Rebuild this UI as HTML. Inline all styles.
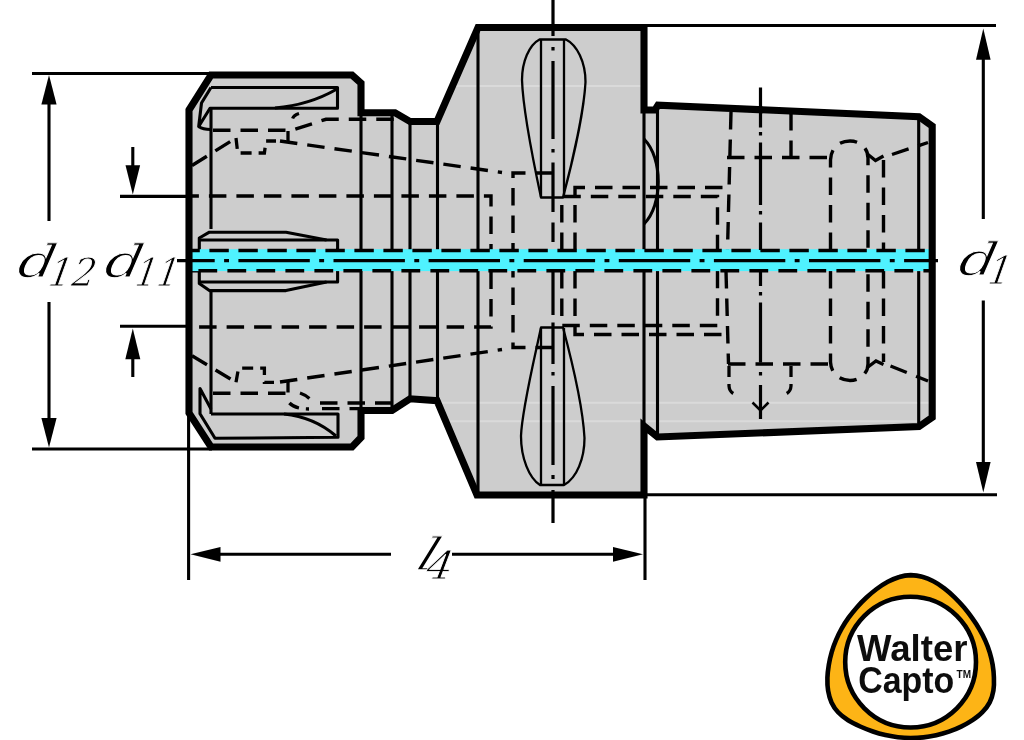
<!DOCTYPE html>
<html>
<head>
<meta charset="utf-8">
<title>Walter Capto collet chuck adaptor</title>
<style>
html,body{margin:0;padding:0;background:#fff;}
body{width:1024px;height:740px;overflow:hidden;position:relative;font-family:"Liberation Sans",sans-serif;}
svg{position:absolute;left:0;top:0;display:block;}
.thick{fill:none;stroke:#000;stroke-width:7.1;stroke-linejoin:miter;stroke-linecap:butt;}
.thin{fill:none;stroke:#000;stroke-width:3.1;stroke-linecap:butt;stroke-linejoin:round;}
.hid{fill:none;stroke:#000;stroke-width:3.4;stroke-dasharray:17.5 10;stroke-linecap:butt;}
.hids{fill:none;stroke:#000;stroke-width:3.3;stroke-dasharray:11 7;stroke-linecap:butt;}
.ctr{fill:none;stroke:#000;stroke-width:3.2;}
.lbl{font-family:"DejaVu Serif","Liberation Serif",serif;font-style:italic;fill:#000;stroke:#fff;stroke-width:0.9;paint-order:fill stroke;}
.logo{font-family:"Liberation Sans",sans-serif;font-weight:bold;fill:#111;}
</style>
</head>
<body>
<svg width="1024" height="740" viewBox="0 0 1024 740">
<defs>
<clipPath id="bodyclip"><path d="M189,110 L211,75 L352,75 L361,83 L361,112.7 L395,112.7 L410,121.5 L437,121.5 L478,27.5 L644,27.5 L644,110 L655,110 L658,105.2 L919,116.7 L932.2,126 L932.2,417.5 L919,426.6 L657.5,437 L644,426 L644,495 L477,495 L437,400.6 L410,398.8 L392,410.5 L361,410.5 L361,437.5 L352,447 L211,447 L189,413 Z"/></clipPath>
<filter id="soft" x="-2%" y="-2%" width="104%" height="104%"><feGaussianBlur stdDeviation="0.7"/></filter>
</defs>
<g filter="url(#soft)">
<rect x="0" y="0" width="1024" height="740" fill="#fff"/>
<!-- BODY FILL -->
<path id="body" fill="#cdcdcd" stroke="none" d="M189,110 L211,75 L352,75 L361,83 L361,112.7 L395,112.7 L410,121.5 L437,121.5 L478,27.5 L644,27.5 L644,110 L655,110 L658,105.2 L919,116.7 L932.2,126 L932.2,417.5 L919,426.6 L657.5,437 L644,426 L644,495 L477,495 L437,400.6 L410,398.8 L392,410.5 L361,410.5 L361,437.5 L352,447 L211,447 L189,413 Z"/>
<!-- LIGHT BANDS -->
<g stroke="#dadada" stroke-width="2" fill="none" clip-path="url(#bodyclip)">
<path d="M445,86 H642"/>
<path d="M438,402.8 H930"/>
<path d="M446,421.2 H930"/>
</g>
<!-- THIN SOLID LINES -->
<g class="thin">
<!-- body verticals -->
<path d="M211,108 V229 M211,292 V414"/>
<path d="M361,112.7 V410.5"/>
<path d="M392,112.7 V410.5"/>
<path d="M410,121.5 V399"/>
<path d="M437.5,121.5 V400.5"/>
<path d="M478,27 V495"/>
<path d="M644,110 V428"/>
<path d="M657.5,105 V437"/>
<path d="M918.7,116.7 V426.6"/>
<!-- arc between flange face and taper -->
<path d="M644,139 C663,158 663,205 644,224"/>
<!-- nut top wrench slot -->
<path d="M211,87.5 H337.5 V108.3 H210 L198.7,126.5 L201.5,103 L211,87.5"/>
<path d="M198.7,126.5 Q203,129.5 210.5,129.5"/>
<path d="M337,89 C318,100 298,106 275,108"/>
<!-- nut bottom wrench slot -->
<path d="M211,414 H338 V437.3 L215,438.3 L200,413.7 V388.6 L211,409"/>
<path d="M284,414 C304,416 322,424 336,436"/>
<!-- collet centre slot -->
<path d="M192,250.5 H199.3 V238 L209.4,232.2 H286 L326.6,240"/>
<path d="M199.3,240 H337.6 V250.5"/>
<path d="M192,271 H199.3 V283.5 L209.4,290.6 H286 L326.6,282"/>
<path d="M199.3,282 H337.6 V271"/>
</g>
<!-- drive slots (teardrops) -->
<g class="thin" style="stroke-width:2.3">
<path d="M539.5,39.5 H566 C577,45 585.5,62 585.5,82 C584,110 573,160 563,197.5 H541 C533,160 523,110 522,80 C522,62 529,45 539.5,39.5 Z"/>
<path d="M541,40 V197 M564,40 V197"/>
<path d="M541,327.5 H563 C573,365 583,410 584.5,438 C584.5,458 577,478 564,485 H540 C529,478 521,458 521,436 C522,410 533,365 541,327.5 Z"/>
<path d="M541,328 V485 M564,328 V485"/>
</g>

<!-- HIDDEN (DASHED) LINES -->
<g class="hid">
<!-- collet bore d11 -->
<path d="M192,196 H491 V327 H192" stroke-dashoffset="10.6"/>
<!-- collet taper -->
<path d="M280,141 L502,172.5"/>
<path d="M280,382 L502,349.5"/>
<path d="M192,165.5 L236,138"/>
<path d="M192,355.7 L236,382.3"/>
<!-- counterbore -->
<path d="M553,173 H513 V250"/>
<path d="M553,347.5 H513 V271"/>
<!-- inner bores in flange / shank -->
<path d="M575,250 V187.5 H731"/>
<path d="M575,271 V334.5 H727"/>
<path d="M561.8,250 V196.5 H717.5 V250"/>
<path d="M561.8,271 V325.5 H717.5 V271"/>
<path d="M731,112 L727.5,250"/>
<path d="M726,271 L728.5,364"/>
<path d="M791,113 V157.5"/>
<path d="M727,157.5 H830.5"/>
<path d="M728,364 H830.5"/>
<path d="M830.5,250 V160 C831,147 840,141 850,141 C859,141 868,147 868,158 V250"/>
<path d="M830.5,271 V362 C831,374 840,380.5 850,380.5 C859,380.5 868,374 868,364 V271"/>
<path d="M883.5,160 V250 M883.5,271 V362"/>
<path d="M892,154.5 L928,142.5"/>
<path d="M890.5,366 L928,381"/>
<!-- nut thread relief -->
<path d="M213,130.3 H292 L319,121.5 L326,119.3 H395"/>
<path d="M213,393.3 H288"/>
<path d="M320,403 H392"/>
<path d="M322,408.6 H361"/>
</g>
<g class="hids">
<path d="M236,138 L237.7,153 H264.4 L266,141 H276"/>
<path d="M236,382.3 L238.5,368.2 H264.4 V382.3 H274"/>
<path d="M288,131 V141 M288,381.5 V392.5"/>
<path d="M292.6,118.5 Q294,115 299,113.5"/>
<path d="M300,393 Q306,395 311,400"/>
<path d="M289.4,403 Q295,409 309,409"/>
<path d="M868,154.5 L875.5,160.5 L883.5,156" stroke-dasharray="none"/>
<path d="M868,367 L876,361 L883.5,364.5" stroke-dasharray="none"/>
<path d="M729,366 V386 Q729.5,394 739,395.5"/>
<path d="M791,366 V386 Q790.5,394 781,395.5"/>
</g>

<!-- CYAN COOLANT CHANNEL -->
<rect x="192" y="249.2" width="738" height="21.9" fill="#4ff2ff"/>
<g class="hid">
<path d="M192,250.5 H930" stroke-dasharray="19.4 9.6" stroke-dashoffset="11.6"/>
<path d="M192,270.7 H930" stroke-dasharray="18.8 10.2" stroke-dashoffset="22.6"/>
</g>
<!-- CENTRE LINES -->
<g class="ctr">
<path d="M177,260.7 H938" stroke-dasharray="71.4 9.4 4.9 9.4" stroke-dashoffset="33.7"/>
<path d="M553,0 V36 M553,47 V50.5 M553,61 V139 M553,149 V152.5 M553,162.5 V212 M553,222.5 V242 M553,272 V315 M553,322.5 V364 M553,372 V375.5 M553,386 V465 M553,475 V479 M553,490 V523"/>
<path d="M760.5,87.5 V127.5 M760.5,132 V135.5 M760.5,142.5 V205 M760.5,211 V214.5 M760.5,222.5 V250 M760.5,271 V286 M760.5,292 V295.5 M760.5,302.5 V362.5 M760.5,372 V375.5 M760.5,385 V419"/>
<path d="M752.5,402.5 L760.5,410.5 L768.5,402.5" stroke-width="2.6"/>
</g>

<!-- BODY OUTLINE -->
<path class="thick" d="M189,110 L211,75 L352,75 L361,83 L361,112.7 L395,112.7 L410,121.5 L437,121.5 L478,27.5 L644,27.5 L644,110 L655,110 L658,105.2 L919,116.7 L932.2,126 L932.2,417.5 L919,426.6 L657.5,437 L644,426 L644,495 L477,495 L437,400.6 L410,398.8 L392,410.5 L361,410.5 L361,437.5 L352,447 L211,447 L189,413 Z"/>
<!-- DIMENSION LINES -->
<g class="thin">
<path d="M32,73.5 H212 M32,449 H212"/>
<path d="M49,100 V221 M49,302 V422"/>
<path d="M120,196.4 H192 M120,326.2 H192"/>
<path d="M132.8,147 V170 M132.8,355 V377"/>
<path d="M188.6,413 V580 M645,495 V580"/>
<path d="M215,554.3 H391 M452,554.3 H618"/>
<path d="M644,25.5 H996 M644,494.8 H997"/>
<path d="M983.3,55 V219 M983.3,300.5 V466"/>
</g>
<g fill="#000" stroke="none">
<path d="M49,75 L56.6,104.6 H41.4 Z"/>
<path d="M49,447.5 L56.6,418 H41.4 Z"/>
<path d="M132.8,194.5 L140.1,165.3 H125.5 Z"/>
<path d="M132.8,328.5 L140.3,359.2 H125.3 Z"/>
<path d="M190.5,554.3 L220.5,547 V561.7 Z"/>
<path d="M643,554.3 L613,547 V561.7 Z"/>
<path d="M983.3,28.5 L990.6,59.7 H976 Z"/>
<path d="M983.3,492.5 L990.6,462 H976 Z"/>
</g>

<!-- LABELS -->
<g class="lbl">
<text transform="translate(16,277) skewX(-10)" font-size="45" textLength="38" lengthAdjust="spacingAndGlyphs">d</text>
<text transform="translate(47,285.8) skewX(-10)" font-size="39" textLength="47" lengthAdjust="spacingAndGlyphs">12</text>
<text transform="translate(103,277) skewX(-10)" font-size="45" textLength="38" lengthAdjust="spacingAndGlyphs">d</text>
<text transform="translate(134,285.8) skewX(-10)" font-size="39" textLength="43" lengthAdjust="spacingAndGlyphs">11</text>
<text transform="translate(957,275.2) skewX(-10)" font-size="45" textLength="38" lengthAdjust="spacingAndGlyphs">d</text>
<text transform="translate(986.5,284) skewX(-10)" font-size="39" textLength="23" lengthAdjust="spacingAndGlyphs">1</text>
<text transform="translate(414,569.5) skewX(-19)" font-size="45" textLength="20" lengthAdjust="spacingAndGlyphs" stroke-width="1.25">l</text>
<text transform="translate(425,579) skewX(-10)" font-size="39" textLength="26" lengthAdjust="spacingAndGlyphs">4</text>
</g>

<!-- WALTER CAPTO LOGO -->
<g>
<path d="M910.8,575.1 C914.6,575.1 918.4,575.6 922.2,576.7 C926.0,577.7 929.8,579.3 933.4,581.3 C937.1,583.2 940.8,585.7 944.3,588.4 C947.9,591.1 951.3,594.2 954.6,597.4 C957.9,600.6 961.1,604.1 964.1,607.6 C967.0,611.1 969.8,614.7 972.4,618.4 C975.0,622.0 977.4,625.6 979.5,629.3 C981.7,633.0 983.6,636.8 985.3,640.6 C987.0,644.4 988.5,648.3 989.7,652.3 C990.9,656.3 991.9,660.3 992.6,664.5 C993.3,668.7 993.8,673.1 993.9,677.5 C994.1,681.8 994.1,686.5 993.4,690.7 C992.7,694.9 991.5,698.9 989.7,702.4 C987.9,706.0 985.3,709.2 982.4,712.1 C979.6,715.1 976.0,717.7 972.5,720.1 C968.9,722.5 965.0,724.7 961.1,726.6 C957.2,728.5 953.1,730.2 948.9,731.7 C944.8,733.1 940.5,734.3 936.2,735.3 C932.0,736.2 927.6,737.0 923.4,737.4 C919.1,737.9 914.7,738.1 910.5,738.1 C906.2,738.1 902.0,737.8 897.9,737.3 C893.7,736.8 889.5,736.0 885.4,735.1 C881.2,734.1 877.0,732.9 872.9,731.5 C868.7,730.0 864.4,728.4 860.2,726.5 C856.1,724.6 851.8,722.6 848.1,720.2 C844.4,717.8 840.9,715.2 838.1,712.2 C835.3,709.3 833.2,706.0 831.5,702.4 C829.8,698.8 828.8,694.8 828.1,690.7 C827.4,686.6 827.3,682.2 827.4,677.9 C827.5,673.6 828.1,669.1 828.8,664.8 C829.5,660.5 830.5,656.3 831.7,652.1 C832.9,648.0 834.3,644.0 836.0,640.1 C837.7,636.1 839.5,632.3 841.6,628.6 C843.7,624.9 846.1,621.2 848.6,617.7 C851.1,614.2 853.8,610.8 856.8,607.4 C859.7,604.1 862.9,600.9 866.2,597.8 C869.5,594.7 873.0,591.7 876.6,589.0 C880.2,586.4 884.0,583.8 887.8,581.8 C891.6,579.8 895.5,578.1 899.3,577.0 C903.1,575.8 907.0,575.2 910.8,575.1 Z" fill="#fdb414" stroke="#000" stroke-width="4.6"/>
<circle cx="910.6" cy="662.1" r="65.4" fill="#fff" stroke="#000" stroke-width="4.6"/>
<g class="logo">
<text x="857" y="660.8" font-size="36" textLength="110.5" lengthAdjust="spacingAndGlyphs">Walter</text>
<text x="858.3" y="692.8" font-size="36.3" textLength="96" lengthAdjust="spacingAndGlyphs">Capto</text>
<text x="956.5" y="677.5" font-size="10.5" textLength="14.5" lengthAdjust="spacingAndGlyphs">TM</text>
</g>
</g>
</g>
</svg>
</body>
</html>
